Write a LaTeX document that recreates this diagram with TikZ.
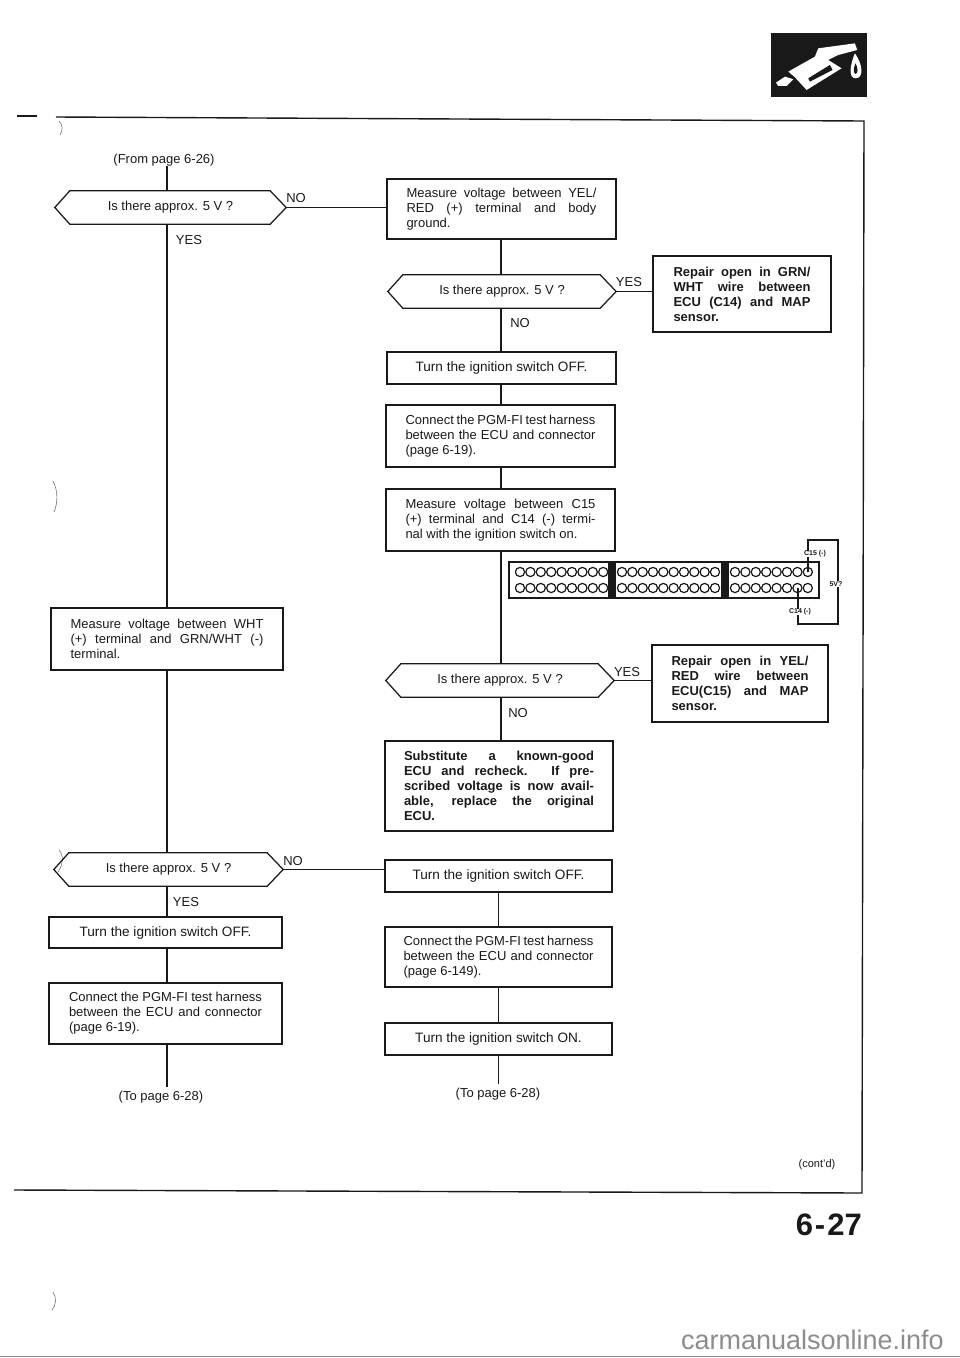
\documentclass[tikz,border=0pt]{standalone}
\usepackage{fontspec}
\setmainfont{Liberation Sans}
\usetikzlibrary{calc}
\definecolor{ink}{gray}{0.1}
\newcommand{\bx}[6][]{%
  \pgfmathsetmacro{\cxx}{(#3+#5)/2}\pgfmathsetmacro{\cyy}{(#4+#6)/2}%
  \pgfmathsetmacro{\www}{#5-#3}\pgfmathsetmacro{\hhh}{#6-#4}%
  \node[#1,minimum width=\www pt,minimum height=\hhh pt] (#2) at (\cxx,\cyy)}
\newcommand{\hexa}[1]{\draw[line] (#1.west) -- ($(#1.north west)+(15,0)$) -- ($(#1.north east)+(-16,0)$) -- (#1.east) -- ($(#1.south east)+(-16,0)$) -- ($(#1.south west)+(15,0)$) -- cycle;}
\newcommand{\J}[1]{\makebox[\lw][s]{#1}}
\newcommand{\Lf}[1]{\makebox[\lw][l]{#1}}
\newlength{\lw}
\tikzset{
  line/.style={draw=ink,line width=1.25pt},
  box/.style={draw=ink,line width=1.25pt,inner sep=0pt,align=left,font=\fontsize{13}{15}\selectfont,text=ink},
  bbox/.style={box,font=\fontsize{13}{15}\bfseries\selectfont},
  tbox/.style={box,align=center,font=\fontsize{13.6}{15}\selectfont},
  hexn/.style={inner sep=0pt,font=\fontsize{13}{15}\selectfont,text=ink},
  lab/.style={inner sep=0pt,font=\fontsize{13}{15}\selectfont,text=ink},
  tiny/.style={inner sep=0pt,font=\fontsize{7}{8}\bfseries\selectfont,text=ink},
  scan/.style={draw=ink!60,line width=0.6pt},
  pin/.style={draw=ink,line width=1.2pt}
}
\begin{document}
\begin{tikzpicture}[x=1pt,y=-1pt]
\useasboundingbox (0,0) rectangle (960,1358);
% outer frame
\coordinate (frameA) at (56,117);
\coordinate (frameB) at (864,121);
\coordinate (frameC) at (862,1193);
\coordinate (frameD) at (14,1190);
\draw[line,line width=1.4pt] (frameA) -- (frameB) -- (frameC) -- (frameD);
\draw[line,line width=1.4pt] (17,116) -- (37,116);
% scan marks
\draw[scan] (59,121) .. controls (63,125) and (63,130) .. (60,135);
\draw[scan] (53,481) .. controls (58,490) and (58,503) .. (54,512);
\draw[scan] (59,850) .. controls (64,855) and (63,865) .. (58,872);
\draw[scan] (53,1292) .. controls (57,1298) and (56,1305) .. (52,1310);
% fuel icon
\fill[ink] (771,33) rectangle (867,97);
\begin{scope}[shift={(740,40)},x=0.333pt,y=-0.333pt]
\fill[white] (145,95) -- (225,50) -- (235,25) -- (345,10) -- (352,30) -- (295,45) -- (265,60) -- (305,85) -- (200,150) -- (165,112) -- cycle;
\fill[ink] (205,115) -- (270,75) -- (278,90) -- (210,125) -- cycle;
\fill[white] (108,128) -- (135,110) -- (160,118) -- (140,138) -- (115,138) -- cycle;
\fill[white] (345,40) .. controls (370,75) and (372,115) .. (347,115) .. controls (325,115) and (330,75) .. (345,40) -- cycle;
\fill[ink] (347,70) .. controls (355,85) and (355,100) .. (347,102) .. controls (340,100) and (340,85) .. (347,70) -- cycle;
\end{scope}
% helper stems
\coordinate (sL) at (167,0);
\coordinate (sM) at (501,0);
\coordinate (sB) at (498.5,0);
% left column
\node[lab] (from) at (164,160) {(From page 6-26)};
\bx[hexn]{d1}{55}{191}{286}{224} {Is there approx. 5 V ?};
\hexa{d1}
\setlength{\lw}{193pt}
\bx[box]{m1}{51}{608}{283}{670} {\J{Measure voltage between WHT}\\\J{(+) terminal and GRN/WHT (-)}\\\Lf{terminal.}};
\bx[hexn]{d4}{54}{853}{283}{886} {Is there approx. 5 V ?};
\hexa{d4}
\bx[tbox]{t1}{49}{917}{282}{948} {Turn the ignition switch OFF.};
\bx[box]{c1}{49}{983}{282}{1044} {\J{Connect the PGM-FI test harness}\\\J{between the ECU and connector}\\\Lf{(page 6-19).}};
\node[lab] (to1) at (161,1097) {(To page 6-28)};
% middle column
\setlength{\lw}{190pt}
\bx[box]{b1}{387}{179}{616}{239} {\J{Measure voltage between YEL/}\\\J{RED (+) terminal and body}\\\Lf{ground.}};
\bx[hexn]{d2}{388}{275}{616}{308} {Is there approx. 5 V ?};
\hexa{d2}
\bx[tbox]{t2}{387}{352}{616}{384} {Turn the ignition switch OFF.};
\bx[box]{c2}{386}{405}{615}{467} {\J{Connect the PGM-FI test harness}\\\J{between the ECU and connector}\\\Lf{(page 6-19).}};
\bx[box]{m2}{386}{489}{615}{551} {\J{Measure voltage between C15}\\\J{(+) terminal and C14 (-) termi-}\\\Lf{nal with the ignition switch on.}};
\bx[hexn]{d3}{386}{664}{614}{697} {Is there approx. 5 V ?};
\hexa{d3}
\bx[bbox]{s1}{385}{741}{613}{831} {\J{Substitute a known-good}\\\J{ECU and recheck. If pre-}\\\J{scribed voltage is now avail-}\\\J{able, replace the original}\\\Lf{ECU.}};
\bx[tbox]{t3}{385}{860}{612}{892} {Turn the ignition switch OFF.};
\bx[box]{c3}{385}{927}{612}{987} {\J{Connect the PGM-FI test harness}\\\J{between the ECU and connector}\\\Lf{(page 6-149).}};
\bx[tbox]{t4}{385}{1023}{612}{1055} {Turn the ignition switch ON.};
\node[lab] (to2) at (498,1094) {(To page 6-28)};
% right column
\setlength{\lw}{137pt}
\bx[bbox]{r1}{653}{256}{831}{332} {\J{Repair open in GRN/}\\\J{WHT wire between}\\\J{ECU (C14) and MAP}\\\Lf{sensor.}};
\bx[bbox]{r2}{652}{645}{828}{722} {\J{Repair open in YEL/}\\\J{RED wire between}\\\J{ECU(C15) and MAP}\\\Lf{sensor.}};
% connectors
\draw[line] (from.south -| sL) -- (d1.north -| sL);
\draw[line] (d1.south -| sL) -- (m1.north -| sL);
\draw[line] (m1.south -| sL) -- (d4.north -| sL);
\draw[line] (d4.south -| sL) -- (t1.north -| sL);
\draw[line] (t1.south -| sL) -- (c1.north -| sL);
\draw[line] (c1.south -| sL) -- ($(to1.north -| sL)+(0,-4)$);
\draw[line] (d1.east) -- (d1.east -| b1.west);
\draw[line] (d4.east) -- (d4.east -| t3.west);
\draw[line] (b1.south -| sM) -- (d2.north -| sM);
\draw[line] (d2.south -| sM) -- (t2.north -| sM);
\draw[line] (t2.south -| sM) -- (c2.north -| sM);
\draw[line] (c2.south -| sM) -- (m2.north -| sM);
\draw[line] (m2.south -| sM) -- (d3.north -| sM);
\draw[line] (d3.south -| sM) -- (s1.north -| sM);
\draw[line] (d2.east) -- (d2.east -| r1.west);
\draw[line] (d3.east) -- (d3.east -| r2.west);
\draw[line] (t3.south -| sB) -- (c3.north -| sB);
\draw[line] (c3.south -| sB) -- (t4.north -| sB);
\draw[line] (t4.south -| sB) -- ($(to2.north -| sB)+(0,-4)$);
% branch labels
\node[lab] (n1) at (296,198) {NO};
\node[lab] (y1) at (189,240) {YES};
\node[lab] (y2) at (629,282) {YES};
\node[lab] (n2) at (520,323) {NO};
\node[lab] (y3) at (627,672) {YES};
\node[lab] (n3) at (518,713) {NO};
\node[lab] (n4) at (293,861) {NO};
\node[lab] (y4) at (186,902) {YES};
% ECU connector
\draw[line,fill=white,line width=1.6pt] (509,562) rectangle (819,598);
\fill[ink] (608,563) rectangle (616,597);
\fill[ink] (721,563) rectangle (729,597);
\foreach \r in {572,588}{
  \foreach \i in {0,...,8}{\draw[pin] (520+10.4*\i,\r) circle (4.6);}
  \foreach \i in {0,...,9}{\draw[pin] (622+10.33*\i,\r) circle (4.6);}
  \foreach \i in {0,...,7}{\draw[pin] (735+10.4*\i,\r) circle (4.6);}
}
\node[tiny] (c15) at (815,554) {C15 (-)};
\node[tiny] (c14) at (800,612) {C14 (-)};
\node[tiny] (v5) at (836,584) {5V?};
\coordinate (p15) at (808,572);
\coordinate (p14) at (798,588);
\draw[line] (p15) -- (p15 |- c15.south);
\draw[line] (p15 |- c15.north) -- (808,540) -- (838,540) -- (v5.north -| 838,0);
\draw[line] (p14) -- (p14 |- c14.north);
\draw[line] (p14 |- c14.south) -- (798,624) -- (838,624) -- (v5.south -| 838,0);
% page furniture
\node[inner sep=0pt,font=\fontsize{11}{13}\selectfont,text=ink] (cont) at (817,1165) {(cont'd)};
\node[inner sep=0pt,font=\fontsize{31}{34}\bfseries\selectfont,text=ink,anchor=east] (pg) at (862,1225) {6\kern2pt-\kern2pt27};
\node[inner sep=0pt,font=\fontsize{27}{30}\selectfont,text=black!45,anchor=base east] (wm) at (944,1349) {carmanualsonline.info};
\draw[black!45,line width=0.9pt] (0,1356) -- (960,1356);
\end{tikzpicture}
\end{document}
